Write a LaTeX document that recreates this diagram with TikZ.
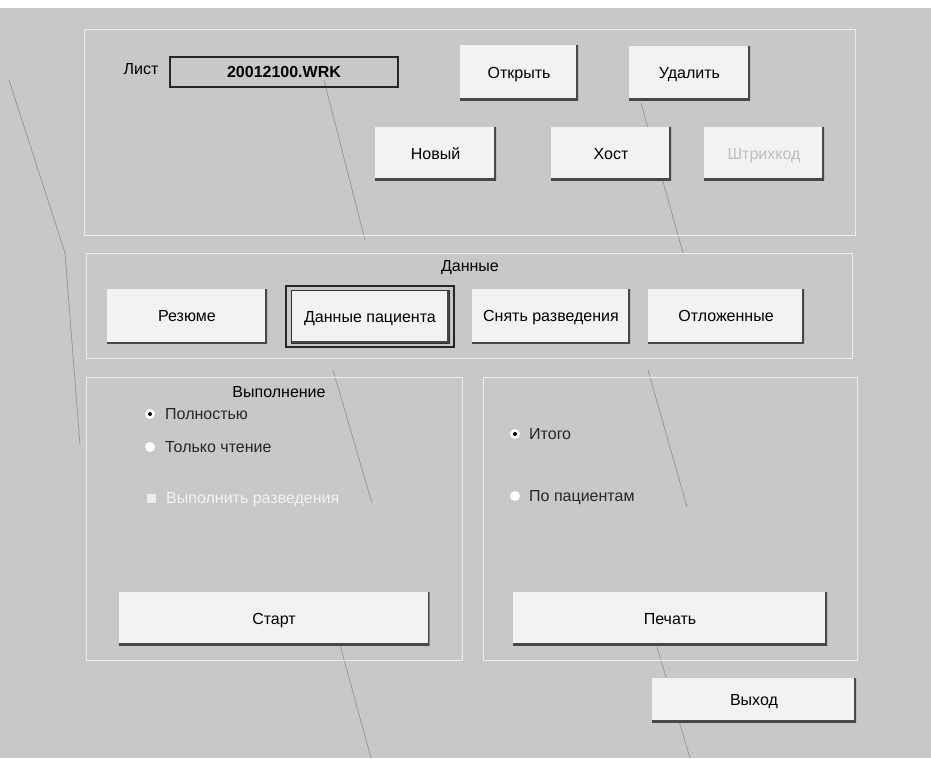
\documentclass[tikz,border=0pt]{standalone}
\usepackage{fontspec}
\setmainfont{Liberation Sans}
\definecolor{panelgray}{RGB}{200,200,201}
\definecolor{btnface}{RGB}{243,241,243}
\definecolor{btnshadow}{RGB}{72,72,74}
\definecolor{framewhite}{RGB}{236,236,238}
\begin{document}
\begin{tikzpicture}[x=1pt, y=-1pt,
            every node/.style = {inner sep=0pt, text height=11.5pt, text depth=0pt,
                font=\fontsize{16}{19}\selectfont},
            frame/.style = {draw=framewhite, line width=0.9pt},
            scratch/.style = {draw=black!55, line width=0.8pt, opacity=0.55},
            button/.style = {shape=rectangle, fill=btnface,
                path picture={
                    \draw[btnshadow, line width=4pt]
                        (path picture bounding box.south west) --
                        (path picture bounding box.south east) --
                        (path picture bounding box.north east);}},
            radio/.style = {shape=circle, fill=white, text height=0pt, minimum size=10pt},
            option/.style = {anchor=west, text=black!85}]

            \fill[white] (0,0) rectangle (931,758);
            \fill[panelgray] (0,8) rectangle (931,758);
            \useasboundingbox (0,0) rectangle (931,758);

            \draw[scratch] (9,80) -- (65,253) -- (80,445);
            \draw[scratch] (324,80) -- (365,240);
            \draw[scratch] (641,103) -- (683,253);
            \draw[scratch] (333,370) -- (372,503);
            \draw[scratch] (648,370) -- (687,507);
            \draw[scratch] (340,645) -- (371,758);
            \draw[scratch] (657,647) -- (690,758);

            \draw[frame] (84,29) rectangle (855,235);
            \draw[frame] (86,253) rectangle (852,358);
            \draw[frame] (86,377) rectangle (462,660);
            \draw[frame] (483,377) rectangle (857,660);

            \node (sheet) at (141,69) {Лист};
            \node[draw=black!85, line width=1.4pt, minimum width=228pt, minimum height=30pt,
                font=\fontsize{16}{19}\selectfont\bfseries] (file) at (284,72) {20012100.WRK};

            \node[button, minimum width=118pt, minimum height=55pt] (open) at (519,72.5) {Открыть};
            \node[button, minimum width=121pt, minimum height=54pt] (delete) at (689.5,73) {Удалить};
            \node[button, minimum width=121pt, minimum height=53pt] (new) at (435.5,153.5) {Новый};
            \node[button, minimum width=120pt, minimum height=53pt] (host) at (611,153.5) {Хост};
            \node[button, minimum width=120pt, minimum height=53pt, text=black!25] (barcode) at (764,153.5) {Штрихкод};

            \node (data) at (470,266) {Данные};
            \node[button, minimum width=160pt, minimum height=55pt] (summary) at (187,316) {Резюме};
            \node[draw=black!85, line width=2.2pt, minimum width=168pt, minimum height=61pt] (patfocus) at (370,316.5) {};
            \node[button, draw=black!80, line width=0.8pt, minimum width=158pt, minimum height=53pt] (patient) at (370,316.5) {Данные пациента};
            \node[button, minimum width=158pt, minimum height=55pt] (dilution) at (551,316) {Снять разведения};
            \node[button, minimum width=156pt, minimum height=55pt] (deferred) at (726,316) {Отложенные};

            \node (run) at (279,392) {Выполнение};
            \node[radio] (fullradio) at (150,414) {};
            \fill (fullradio.center) circle (2pt);
            \node[option] (full) at (165,414) {Полностью};
            \node[radio] (readradio) at (150,447) {};
            \node[option] (read) at (165,447) {Только чтение};
            \node[shape=rectangle, fill=white!85!gray, text height=0pt, minimum size=9pt] (dilbox) at (151,498) {};
            \node[option, text=white!90!gray] (dilrun) at (166,498) {Выполнить разведения};
            \node[button, minimum width=311pt, minimum height=53pt] (start) at (274,618.5) {Старт};

            \node[radio] (totalradio) at (515,434) {};
            \fill (totalradio.center) circle (2pt);
            \node[option] (total) at (529,434) {Итого};
            \node[radio] (byradio) at (515,496) {};
            \node[option] (bypatient) at (529,496) {По пациентам};
            \node[button, minimum width=314pt, minimum height=53pt] (print) at (670,618.5) {Печать};

            \node[button, minimum width=204pt, minimum height=44pt] (exit) at (754,700) {Выход};

        \end{tikzpicture}
\end{document}
